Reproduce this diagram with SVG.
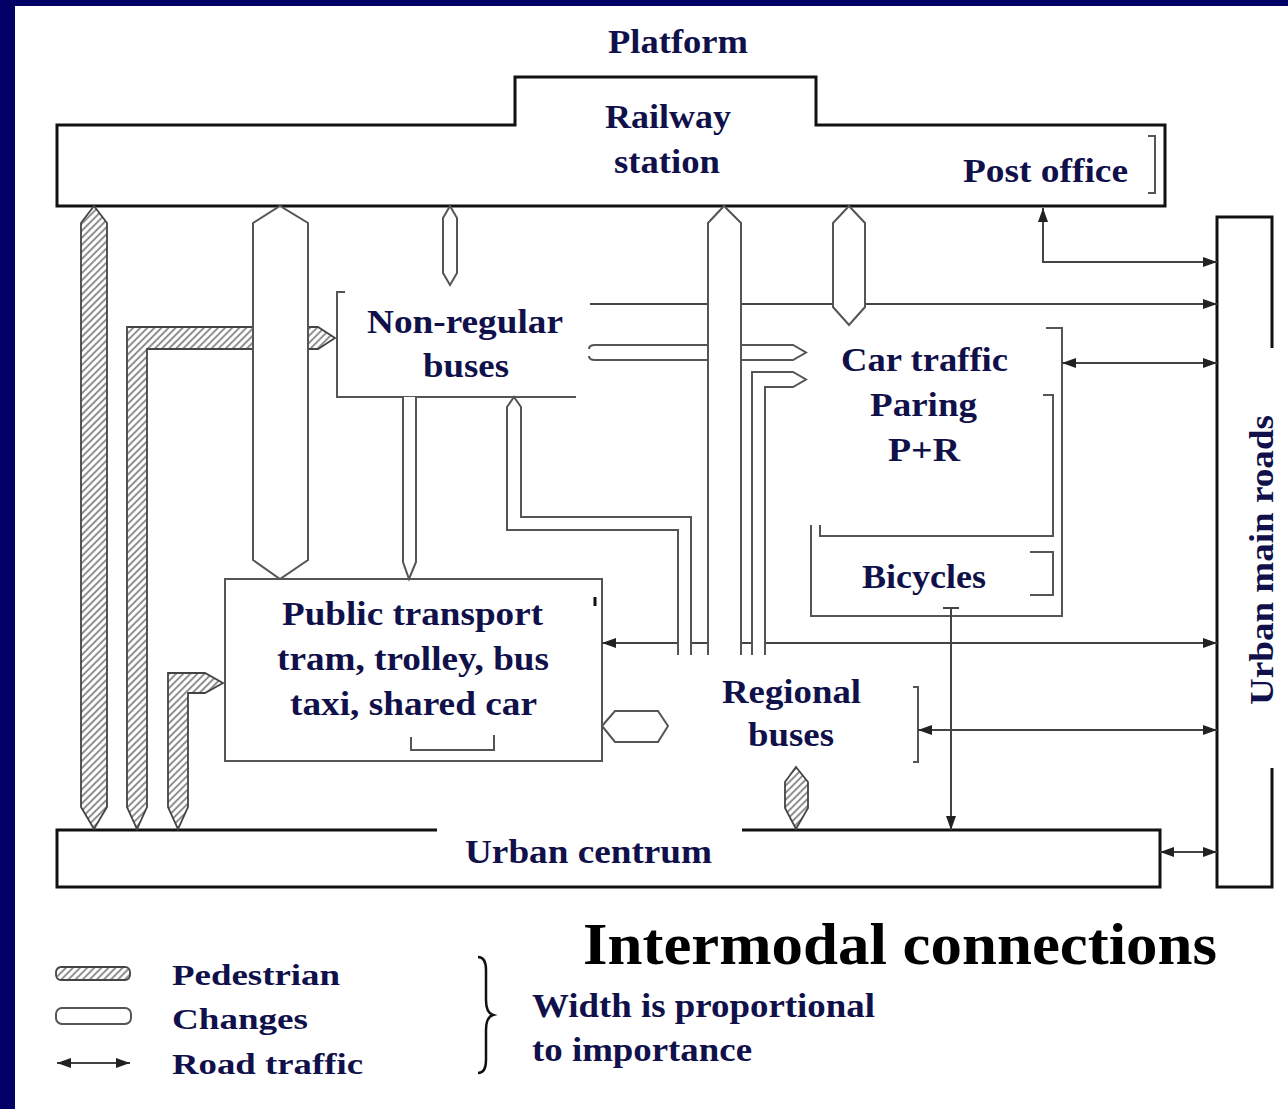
<svg xmlns="http://www.w3.org/2000/svg" width="1288" height="1109" viewBox="0 0 1288 1109">
<style>
.lbl{font-family:"Liberation Serif","Times New Roman",serif;font-weight:bold;font-size:33px;fill:#10104a}
.leg{font-family:"Liberation Serif","Times New Roman",serif;font-weight:bold;font-size:30px;fill:#10104a}
.note{font-family:"Liberation Serif","Times New Roman",serif;font-weight:bold;font-size:34px;fill:#10104a}
.frame{fill:none;stroke:#111;stroke-width:3}
.thin{fill:none;stroke:#555;stroke-width:2}
.bar{fill:#fff;stroke:#555;stroke-width:2}
.barfill{fill:#fff;stroke:none}
.ped{fill:url(#hatch);stroke:#444;stroke-width:1.8}
.arr{fill:none;stroke:#444;stroke-width:2}
</style>
<defs>
<pattern id="hatch" patternUnits="userSpaceOnUse" width="5" height="5" patternTransform="rotate(45)">
<rect width="5" height="5" fill="#fff"/>
<line x1="1" y1="0" x2="1" y2="5" stroke="#555" stroke-width="1.3"/>
</pattern>
<marker id="ah" viewBox="0 0 14 10" refX="14" refY="5" markerWidth="14" markerHeight="10" markerUnits="userSpaceOnUse" orient="auto-start-reverse">
<path d="M0,0 L14,5 L0,10 Z" fill="#222"/>
</marker>
</defs>
<rect x="0" y="0" width="1288" height="1109" fill="#000066"/>
<rect x="15" y="6" width="1273" height="1103" fill="#fff"/>

<g id="station">
<path class="frame" d="M57,125 L515,125 L515,77 L816,77 L816,125 L1165,125 L1165,206 L57,206 Z"/>
<text class="lbl" x="608" y="53" textLength="140" lengthAdjust="spacingAndGlyphs">Platform</text>
<text class="lbl" x="605" y="128" textLength="126" lengthAdjust="spacingAndGlyphs">Railway</text>
<text class="lbl" x="614" y="173" textLength="106" lengthAdjust="spacingAndGlyphs">station</text>
</g>
<g id="post-office">
<path class="thin" d="M1148,136 L1155,136 L1155,193 L1148,193"/>
<text class="lbl" x="963" y="182" textLength="165" lengthAdjust="spacingAndGlyphs">Post office</text>
</g>
<g id="main-roads">
<path class="frame" d="M1272,348 L1272,217 L1217,217 L1217,887 L1272,887 L1272,768"/>
<text class="lbl" transform="translate(1273,560) rotate(-90)" text-anchor="middle" textLength="290" lengthAdjust="spacingAndGlyphs">Urban main roads</text>
</g>
<g id="urban-centrum">
<path class="frame" d="M437,830 L57,830 L57,887 L1160,887 L1160,830 L742,830"/>
<text class="lbl" x="465" y="863" textLength="247" lengthAdjust="spacingAndGlyphs">Urban centrum</text>
</g>
<g id="non-regular">
<path class="thin" d="M345,292 L337,292 L337,397 L576,397"/>
<text class="lbl" x="367" y="333" textLength="196" lengthAdjust="spacingAndGlyphs">Non-regular</text>
<text class="lbl" x="423" y="377" textLength="86" lengthAdjust="spacingAndGlyphs">buses</text>
</g>
<g id="car-traffic">
<path class="thin" d="M1046,328 L1062,328 L1062,616 L811,616 L811,525"/>
<path class="thin" d="M1043,395 L1053,395 L1053,536 L820,536 L820,525"/>
<text class="lbl" x="841" y="371" textLength="167" lengthAdjust="spacingAndGlyphs">Car traffic</text>
<text class="lbl" x="870" y="416" textLength="107" lengthAdjust="spacingAndGlyphs">Paring</text>
<text class="lbl" x="888" y="461" textLength="72" lengthAdjust="spacingAndGlyphs">P+R</text>
</g>
<g id="bicycles">
<path class="thin" d="M1030,552 L1053,552 L1053,595 L1030,595"/>
<text class="lbl" x="862" y="588" textLength="124" lengthAdjust="spacingAndGlyphs">Bicycles</text>
</g>
<g id="public-transport">
<rect class="thin" x="225" y="579" width="377" height="182"/>
<line x1="595" y1="597" x2="595" y2="606" stroke="#111" stroke-width="3"/>
<path class="thin" d="M411,737 L411,750 L494,750 L494,735"/>
<text class="lbl" x="282" y="625" textLength="261" lengthAdjust="spacingAndGlyphs">Public transport</text>
<text class="lbl" x="277" y="670" textLength="272" lengthAdjust="spacingAndGlyphs">tram, trolley, bus</text>
<text class="lbl" x="290" y="715" textLength="247" lengthAdjust="spacingAndGlyphs">taxi, shared car</text>
</g>
<g id="regional">
<path class="thin" d="M913,687 L918,687 L918,762 L913,762"/>
<text class="lbl" x="722" y="703" textLength="139" lengthAdjust="spacingAndGlyphs">Regional</text>
<text class="lbl" x="748" y="746" textLength="86" lengthAdjust="spacingAndGlyphs">buses</text>
</g>

<g id="connectors">
<path class="arr" d="M1043,208 L1043,262 L1217,262" marker-start="url(#ah)" marker-end="url(#ah)"/>
<path class="arr" d="M590,304 L1217,304" marker-end="url(#ah)"/>
<path class="arr" d="M1062,363 L1217,363" marker-start="url(#ah)" marker-end="url(#ah)"/>
<path class="arr" d="M602,643 L1217,643" marker-start="url(#ah)" marker-end="url(#ah)"/>
<path class="arr" d="M918,730 L1217,730" marker-start="url(#ah)" marker-end="url(#ah)"/>
<path class="arr" d="M1160,852 L1217,852" marker-start="url(#ah)" marker-end="url(#ah)"/>
<path class="arr" d="M951,608 L951,830" marker-end="url(#ah)"/>
<line x1="943" y1="608" x2="959" y2="608" stroke="#444" stroke-width="2"/>

<path class="ped" d="M81,223 L94,206 L107,223 L107,807 L94,829 L81,807 Z"/>
<path class="ped" d="M335,338 L318,327 L127,327 L127,807 L137,829 L147,807 L147,349 L318,349 Z"/>
<path class="ped" d="M223,683 L205,673 L168,673 L168,807 L178,829 L188,807 L188,693 L205,693 Z"/>
<path class="ped" d="M796,767 L808,782 L808,808 L796,829 L785,808 L785,782 Z"/>

<path class="bar" d="M253,223 L280,206 L308,223 L308,560 L280,579 L253,560 Z"/>
<path class="bar" d="M443,218 L450,206 L457,218 L457,273 L450,285 L443,273 Z"/>
<path class="bar" d="M833,223 L849,206 L865,223 L865,307 L849,325 L833,307 Z"/>
<path class="barfill" d="M403,397 L416,397 L416,562 L409,579 L403,562 Z"/>
<path class="thin" d="M403,397 L403,562 L409,579 L416,562 L416,397"/>
<path class="bar" d="M602,726 L615,711 L658,711 L668,726 L658,742 L615,742 Z"/>
<path class="barfill" d="M590,345 L793,345 L806,352.5 L793,360 L590,360 Z"/>
<path class="thin" d="M595,345 L793,345 L806,352.5 L793,360 L595,360"/>
<path class="thin" d="M595,345 Q589,345 589,349 M595,360 Q589,360 589,356"/>
<path class="barfill" d="M678,655 L678,530 L507,530 L507,407 L514,397 L521,407 L521,517 L691,517 L691,655 Z"/>
<path class="thin" d="M678,655 L678,530 L507,530 L507,407 L514,397 L521,407 L521,517 L691,517 L691,655"/>
<path class="barfill" d="M708,655 L708,223 L724,206 L741,223 L741,655 Z"/>
<path class="thin" d="M708,655 L708,223 L724,206 L741,223 L741,655"/>
<path class="barfill" d="M752,655 L752,372 L793,372 L806,379.5 L793,387 L765,387 L765,655 Z"/>
<path class="thin" d="M752,655 L752,372 L793,372 L806,379.5 L793,387 L765,387 L765,655"/>
</g>

<g id="title">
<text x="583" y="964" font-family="'Liberation Serif','Times New Roman',serif" font-weight="bold" font-size="60" fill="#000" textLength="634" lengthAdjust="spacingAndGlyphs">Intermodal connections</text>
</g>
<g id="legend">
<rect x="56" y="967" width="74" height="13" rx="5" class="ped"/>
<rect x="56" y="1008" width="75" height="16" rx="6" class="bar"/>
<path class="arr" d="M57,1063 L130,1063" marker-start="url(#ah)" marker-end="url(#ah)"/>
<text class="leg" x="172" y="985" textLength="168" lengthAdjust="spacingAndGlyphs">Pedestrian</text>
<text class="leg" x="172" y="1029" textLength="136" lengthAdjust="spacingAndGlyphs">Changes</text>
<text class="leg" x="172" y="1074" textLength="191" lengthAdjust="spacingAndGlyphs">Road traffic</text>
<path d="M478,957 Q486,957 486,970 L486,1000 Q486,1013 493,1015 Q486,1017 486,1030 L486,1060 Q486,1073 478,1073" fill="none" stroke="#111" stroke-width="2.5"/>
<text class="note" x="532" y="1017" textLength="343" lengthAdjust="spacingAndGlyphs">Width is proportional</text>
<text class="note" x="532" y="1061" textLength="220" lengthAdjust="spacingAndGlyphs">to importance</text>
</g>
</svg>
